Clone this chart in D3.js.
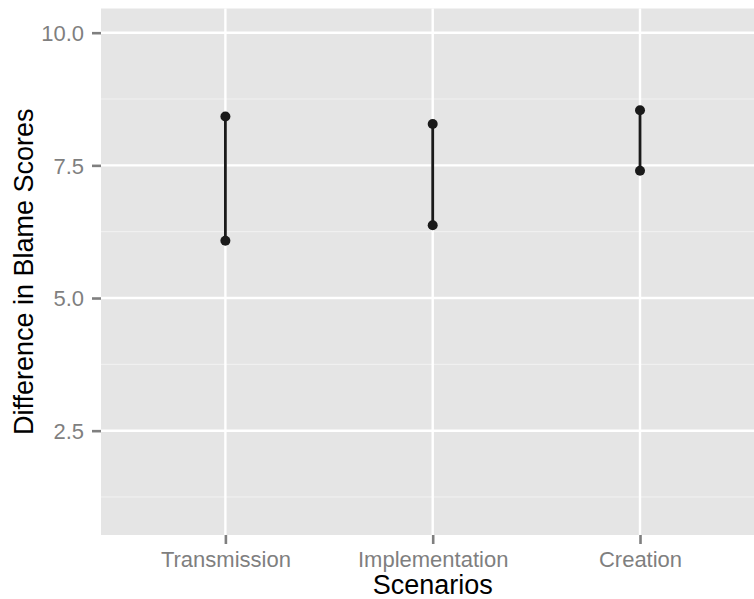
<!DOCTYPE html>
<html>
<head>
<meta charset="utf-8">
<script src="https://cdn.jsdelivr.net/npm/d3@7"></script>
<style>
  body { margin: 0; background: #fff; }
  svg { display: block; }
  text { font-family: "Liberation Sans", Arial, sans-serif; }
</style>
</head>
<body>
<svg id="chart" width="754" height="599"></svg>
<script>
// Range of blame-score differences per scenario
const scenarios = ["Transmission", "Implementation", "Creation"];
const lowValues = [6.08, 6.37, 7.40];
const highValues = [8.42, 8.28, 8.54];
const yTicks = [2.5, 5.0, 7.5, 10.0];
const yMinor = [1.25, 3.75, 6.25, 8.75];

const svg = d3.select("#chart");
const panel = { left: 101, top: 8.5, right: 764.4, bottom: 535 };

// Discrete positions 1..n with 0.6 padding on each side
const x = d3.scaleLinear()
  .domain([0.4, scenarios.length + 0.6])
  .range([panel.left, panel.right]);
const y = d3.scaleLinear()
  .domain([0.534, 10.456])
  .range([panel.bottom, panel.top]);

// Panel background
svg.append("rect")
  .attr("x", panel.left).attr("y", panel.top)
  .attr("width", panel.right - panel.left)
  .attr("height", panel.bottom - panel.top)
  .attr("fill", "#e5e5e5");

const grid = svg.append("g");
grid.selectAll(".minor").data(yMinor).join("line")
  .attr("x1", panel.left).attr("x2", panel.right)
  .attr("y1", d => y(d)).attr("y2", d => y(d))
  .attr("stroke", "#f2f2f2").attr("stroke-width", 1);
grid.selectAll(".majory").data(yTicks).join("line")
  .attr("x1", panel.left).attr("x2", panel.right)
  .attr("y1", d => y(d)).attr("y2", d => y(d))
  .attr("stroke", "#fff").attr("stroke-width", 2.4);
grid.selectAll(".majorx").data(scenarios).join("line")
  .attr("x1", (d, i) => x(i + 1)).attr("x2", (d, i) => x(i + 1))
  .attr("y1", panel.top).attr("y2", panel.bottom)
  .attr("stroke", "#fff").attr("stroke-width", 2.4);

// Y axis
const yAxis = d3.axisLeft(y).tickValues(yTicks)
  .tickFormat(d3.format(".1f")).tickSize(9).tickPadding(8);
const gy = svg.append("g")
  .attr("transform", `translate(${panel.left},0)`)
  .call(yAxis);
gy.select(".domain").remove();
gy.selectAll(".tick line").attr("stroke", "#7f7f7f").attr("stroke-width", 2.6);
gy.selectAll(".tick text").attr("fill", "#7f7f7f")
  .style("font-size", "22px").attr("dy", "0.36em");

// X axis
const xAxis = d3.axisBottom(x).tickValues(scenarios.map((d, i) => i + 1))
  .tickFormat((d, i) => scenarios[i]).tickSize(9).tickPadding(7);
const gx = svg.append("g")
  .attr("transform", `translate(0,${panel.bottom})`)
  .call(xAxis);
gx.select(".domain").remove();
gx.selectAll(".tick line").attr("stroke", "#7f7f7f").attr("stroke-width", 2.6);
gx.selectAll(".tick text").attr("fill", "#7f7f7f")
  .style("font-size", "22px");

// Range segments and end points
const rows = scenarios.map((s, i) => ({ s, i, lo: lowValues[i], hi: highValues[i] }));
svg.append("g").selectAll("line").data(rows).join("line")
  .attr("x1", d => x(d.i + 1)).attr("x2", d => x(d.i + 1))
  .attr("y1", d => y(d.lo)).attr("y2", d => y(d.hi))
  .attr("stroke", "#1a1a1a").attr("stroke-width", 2.8);
const pts = rows.flatMap(d => [{ i: d.i, v: d.lo }, { i: d.i, v: d.hi }]);
svg.append("g").selectAll("circle").data(pts).join("circle")
  .attr("cx", d => x(d.i + 1)).attr("cy", d => y(d.v))
  .attr("r", 5).attr("fill", "#1a1a1a");

// Axis titles
svg.append("text")
  .attr("x", (panel.left + panel.right) / 2).attr("y", 594)
  .attr("text-anchor", "middle").attr("fill", "#000")
  .style("font-size", "27px").text("Scenarios");
svg.append("text")
  .attr("transform", `translate(33,${(panel.top + panel.bottom) / 2}) rotate(-90)`)
  .attr("text-anchor", "middle").attr("fill", "#000")
  .style("font-size", "27px").text("Difference in Blame Scores");
</script>
</body>
</html>
